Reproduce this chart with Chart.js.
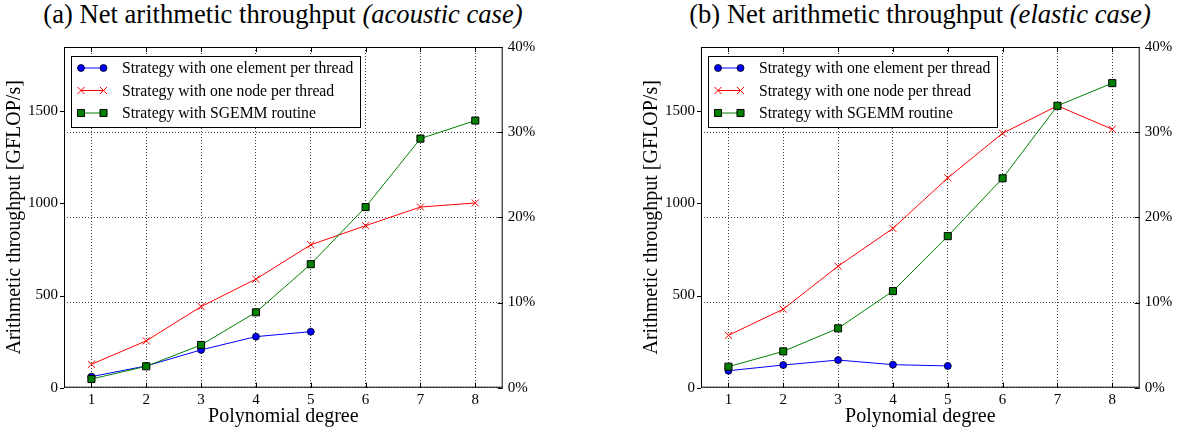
<!DOCTYPE html>
<html>
<head>
<meta charset="utf-8">
<script src="https://cdn.jsdelivr.net/npm/chart.js@4.4.1/dist/chart.umd.min.js"></script>
<style>
    body { margin: 0; background: #fff; overflow: hidden; }
    .panel { position: absolute; top: 0; }
    .title {
        position: absolute; top: 0; width: 600px; text-align: center;
        font-family: "Liberation Serif", serif; font-size: 26.6px; line-height: 28px; color: #000;
    }
</style>
</head>
<body>
<div class="title" style="left:-17px">(a) Net arithmetic throughput <i>(acoustic case)</i></div>
<div class="title" style="left:620px">(b) Net arithmetic throughput <i>(elastic case)</i></div>
<canvas id="acousticCanvas" class="panel" style="left:0" width="544" height="433"></canvas>
<canvas id="elasticCanvas" class="panel" style="left:637px" width="544" height="433"></canvas>
<script>
const degrees = [1, 2, 3, 4, 5, 6, 7, 8];
const seriesLabels = [
    "Strategy with one element per thread",
    "Strategy with one node per thread",
    "Strategy with SGEMM routine",
];
const acousticElement = [60, 118, 205, 277, 304];
const acousticNode = [127, 254, 440, 589, 775, 879, 980, 1002];
const acousticSgemm = [47, 116, 232, 409, 670, 980, 1351, 1449];
const elasticElement = [92, 123, 150, 125, 118];
const elasticNode = [284, 426, 659, 864, 1138, 1380, 1529, 1402];
const elasticSgemm = [114, 197, 322, 524, 822, 1136, 1529, 1652];
const gflopTicks = [0, 500, 1000, 1500];
const percentTicks = [0, 10, 20, 30, 40];
const gflopMax = 1848;

const serif = "Liberation Serif";
Chart.defaults.font.family = serif;
Chart.defaults.color = "#000";

function points(values) {
    return values.map((v, i) => ({ x: degrees[i], y: v }));
}

// frame + matplotlib-like ticks
const framePlugin = {
    id: "frame",
    beforeDatasetsDraw(chart) {
        const { ctx, chartArea: a, scales } = chart;
        ctx.save();
        ctx.strokeStyle = "#000";
        ctx.lineWidth = 1;
        ctx.strokeRect(a.left + 0.5, a.top + 0.5, a.right - a.left - 1, a.bottom - a.top - 1);
        ctx.beginPath();
        gflopTicks.forEach((v) => {
            const y = Math.round(scales.y.getPixelForValue(v)) + 0.5;
            ctx.moveTo(a.left - 4, y);
            ctx.lineTo(a.left, y);
        });
        percentTicks.forEach((v) => {
            const y = Math.round(scales.y2.getPixelForValue(v)) + 0.5;
            ctx.moveTo(a.right - 5, y);
            ctx.lineTo(a.right, y);
        });
        degrees.forEach((v) => {
            const x = Math.round(scales.x.getPixelForValue(v)) + 0.5;
            ctx.moveTo(x, a.bottom);
            ctx.lineTo(x, a.bottom - 5);
            ctx.moveTo(x, a.top);
            ctx.lineTo(x, a.top + 5);
        });
        ctx.stroke();
        ctx.restore();
    },
};

const legendPlugin = {
    id: "legendBox",
    afterDraw(chart) {
        const { ctx, chartArea: a } = chart;
        const x = a.left + 7, y = a.top + 9, w = 289, h = 71;
        ctx.save();
        ctx.fillStyle = "#fff";
        ctx.fillRect(x, y, w, h);
        ctx.strokeStyle = "#000";
        ctx.lineWidth = 1;
        ctx.strokeRect(x + 0.5, y + 0.5, w, h);
        ctx.font = "15.7px '" + serif + "'";
        ctx.textBaseline = "middle";
        chart.data.datasets.forEach((ds, i) => {
            const ry = y + 12 + i * 22.5;
            ctx.strokeStyle = ds.borderColor;
            ctx.lineWidth = 1;
            ctx.beginPath();
            ctx.moveTo(x + 10, ry);
            ctx.lineTo(x + 32.5, ry);
            ctx.stroke();
            [x + 10, x + 32.5].forEach((px) => {
                ctx.fillStyle = ds.pointBackgroundColor;
                ctx.strokeStyle = ds.pointBorderColor;
                ctx.lineWidth = ds.pointBorderWidth;
                Chart.helpers.drawPoint(ctx, {
                    pointStyle: ds.pointStyle,
                    radius: ds.pointRadius,
                    borderWidth: ds.pointBorderWidth,
                    rotation: 0,
                }, px, ry);
            });
            ctx.fillStyle = "#000";
            ctx.fillText(ds.label, x + 51, ry + 1);
        });
        ctx.restore();
    },
};

function makeChart(canvasId, element, node, sgemm) {
    const ctx = document.getElementById(canvasId).getContext("2d");
    return new Chart(ctx, {
        type: "line",
        data: {
            datasets: [
                {
                    label: seriesLabels[0],
                    data: points(element),
                    borderColor: "#0000ff",
                    borderWidth: 1,
                    pointStyle: "circle",
                    pointRadius: 3.5,
                    pointBackgroundColor: "#0000ff",
                    pointBorderColor: "#000",
                    pointBorderWidth: 0.8,
                    order: 2,
                },
                {
                    label: seriesLabels[1],
                    data: points(node),
                    borderColor: "#ff0000",
                    borderWidth: 1,
                    pointStyle: "crossRot",
                    pointRadius: 5,
                    pointBackgroundColor: "#ff0000",
                    pointBorderColor: "#ff0000",
                    pointBorderWidth: 1,
                    order: 1,
                },
                {
                    label: seriesLabels[2],
                    data: points(sgemm),
                    borderColor: "#008000",
                    borderWidth: 1,
                    pointStyle: "rect",
                    pointRadius: 5,
                    pointBackgroundColor: "#008000",
                    pointBorderColor: "#000",
                    pointBorderWidth: 1,
                    order: 0,
                },
            ],
        },
        options: {
            responsive: false,
            animation: false,
            layout: { padding: { top: 47, left: 0, right: 0, bottom: 0 } },
            plugins: { legend: { display: false }, tooltip: { enabled: false } },
            scales: {
                x: {
                    type: "linear",
                    min: 0.5,
                    max: 8.5,
                    afterBuildTicks: (s) => { s.ticks = degrees.map((v) => ({ value: v })); },
                    afterFit: (s) => { s.height = 45.3; },
                    grid: { color: "rgba(0,0,0,0.75)", lineWidth: 1, drawTicks: false },
                    border: { display: false, dash: [1, 2] },
                    ticks: {
                        color: "#000", padding: 3, font: { family: serif, size: 15 },
                        callback: (v) => String(v),
                    },
                    title: {
                        display: true, text: "Polynomial degree", color: "#000",
                        padding: { top: 0, bottom: 4 },
                        font: { family: serif, size: 20 },
                    },
                },
                y: {
                    position: "left",
                    min: 0,
                    max: gflopMax,
                    afterBuildTicks: (s) => { s.ticks = gflopTicks.map((v) => ({ value: v })); },
                    afterFit: (s) => { s.width = 64; },
                    grid: { display: false, drawTicks: false },
                    border: { display: false },
                    ticks: {
                        color: "#000", padding: 6, font: { family: serif, size: 15 },
                        callback: (v) => String(v),
                    },
                    title: {
                        display: true, text: "Arithmetic throughput [GFLOP/s]", color: "#000",
                        padding: { top: 3, bottom: 0 },
                        font: { family: serif, size: 20 },
                    },
                },
                y2: {
                    position: "right",
                    min: 0,
                    max: 40,
                    afterBuildTicks: (s) => { s.ticks = percentTicks.map((v) => ({ value: v })); },
                    afterFit: (s) => { s.width = 41.3; },
                    grid: { color: "rgba(0,0,0,0.75)", lineWidth: 1, drawTicks: false },
                    border: { display: false, dash: [1, 2] },
                    ticks: {
                        color: "#000", padding: 5, font: { family: serif, size: 15 },
                        callback: (v) => v + "%",
                    },
                },
            },
        },
        plugins: [framePlugin, legendPlugin],
    });
}

makeChart("acousticCanvas", acousticElement, acousticNode, acousticSgemm);
makeChart("elasticCanvas", elasticElement, elasticNode, elasticSgemm);
</script>
</body>
</html>
